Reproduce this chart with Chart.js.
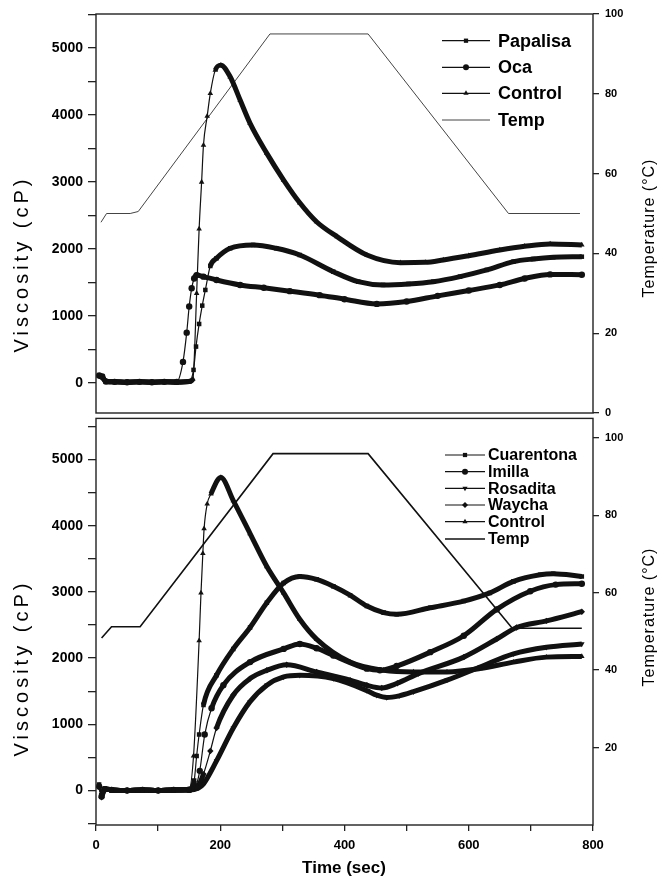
<!DOCTYPE html>
<html lang="en">
<head>
<meta charset="UTF-8">
<title>RVA viscosity profiles</title>
<script src="https://cdn.jsdelivr.net/npm/chart.js"></script>
<style>
  body { margin: 0; background: #fff; }
  #wrap { position: relative; width: 662px; height: 888px; }
  canvas { position: absolute; left: 0; }
  #top { top: 0; }
  #bottom { top: 405px; }
</style>
</head>
<body>
<div id="wrap">
  <canvas id="top" width="662" height="430"></canvas>
  <canvas id="bottom" width="662" height="483"></canvas>
</div>
<script>
// ---- axis ticks
const viscTicks = [-500, 0, 500, 1000, 1500, 2000, 2500, 3000, 3500, 4000, 4500, 5000, 5500];
const viscLabels = [0, 1000, 2000, 3000, 4000, 5000];
const tempTicksTop = [0, 20, 40, 60, 80, 100];
const tempTicksBottom = [20, 40, 60, 80, 100];
const timeTicks = [0, 100, 200, 300, 400, 500, 600, 700, 800];
const timeLabels = [0, 200, 400, 600, 800];

// ---- top panel (time in s, viscosity in cP, temperature in °C)
const papalisaTime = [5, 10, 16, 30, 50, 70, 90, 110, 130, 150, 157, 161, 166, 171, 176, 184, 194, 216, 253, 290, 328, 382, 422, 462, 503, 543, 586, 629, 672, 704, 736, 782];
const papalisaVisc = [110, 90, 20, 15, 10, 15, 10, 15, 10, 20, 194, 542, 880, 1154, 1388, 1746, 1861, 2010, 2060, 2010, 1910, 1661, 1512, 1463, 1478, 1512, 1587, 1687, 1811, 1851, 1876, 1885];

const ocaTime = [5, 10, 16, 30, 50, 70, 90, 110, 130, 140, 146, 150, 154, 158, 162, 173, 194, 232, 270, 312, 360, 400, 452, 500, 550, 600, 650, 690, 731, 782];
const ocaVisc = [110, 95, 20, 15, 10, 15, 10, 15, 15, 313, 750, 1140, 1413, 1560, 1610, 1587, 1537, 1463, 1420, 1370, 1310, 1250, 1180, 1215, 1300, 1380, 1463, 1560, 1620, 1615];

const controlTopTime = [5, 10, 16, 30, 50, 70, 90, 110, 130, 150, 156, 162, 166, 170, 173, 179, 184, 192, 201, 216, 232, 248, 275, 302, 328, 355, 388, 436, 490, 530, 559, 600, 650, 690, 731, 782];
const controlTopVisc = [100, 80, 20, 15, 10, 15, 10, 15, 10, 20, 60, 1338, 2300, 3000, 3552, 3985, 4324, 4672, 4746, 4572, 4224, 3876, 3428, 3030, 2690, 2407, 2184, 1910, 1796, 1800, 1836, 1900, 1985, 2040, 2075, 2060];

const tempTopTime = [8, 17, 55, 68, 280, 438, 664, 779];
const tempTopDeg = [47.8, 50, 50, 50.5, 95, 95, 50, 50];

// ---- bottom panel
const cuarentonaTime = [5, 9, 14, 25, 50, 75, 100, 125, 150, 158, 162, 166, 173, 194, 221, 248, 275, 302, 328, 355, 382, 409, 436, 463, 484, 538, 592, 634, 672, 715, 736, 782];
const cuarentonaVisc = [90, -70, 30, 10, 0, 10, 0, 10, 20, 150, 522, 846, 1294, 1741, 2139, 2463, 2836, 3134, 3234, 3190, 3085, 2950, 2786, 2687, 2661, 2761, 2861, 2985, 3159, 3258, 3273, 3234];

const imillaTime = [5, 9, 14, 25, 50, 75, 100, 125, 150, 160, 167, 175, 186, 205, 248, 302, 328, 355, 382, 436, 457, 484, 538, 592, 645, 699, 740, 782];
const imillaVisc = [60, -90, 20, 10, 0, 10, 0, 10, 10, 60, 298, 846, 1243, 1592, 1940, 2139, 2214, 2150, 2040, 1841, 1816, 1880, 2090, 2338, 2736, 3010, 3110, 3124];

const rosaditaTime = [5, 9, 14, 25, 50, 75, 100, 125, 150, 165, 173, 194, 221, 248, 275, 302, 328, 382, 436, 452, 468, 488, 511, 565, 618, 672, 725, 782];
const rosaditaVisc = [70, -60, 20, 10, 0, 10, 0, 10, 10, 40, 100, 448, 945, 1343, 1592, 1716, 1741, 1691, 1510, 1440, 1405, 1430, 1493, 1667, 1866, 2065, 2164, 2214];

const waychaTime = [5, 9, 14, 25, 50, 75, 100, 125, 150, 165, 173, 184, 194, 221, 248, 275, 307, 355, 409, 436, 460, 485, 519, 592, 645, 677, 725, 782];
const waychaVisc = [50, -100, 20, 10, 0, 10, 0, 10, 10, 80, 249, 597, 945, 1443, 1691, 1816, 1900, 1791, 1667, 1590, 1550, 1620, 1766, 2015, 2288, 2463, 2562, 2701];

const controlBotTime = [5, 9, 14, 25, 50, 75, 100, 125, 150, 157, 166, 169, 172, 174, 179, 185, 201, 221, 248, 275, 302, 328, 355, 409, 463, 511, 565, 618, 672, 725, 782];
const controlBotVisc = [80, -50, 20, 10, 0, 10, 0, 10, 20, 522, 2264, 2985, 3582, 3955, 4328, 4478, 4727, 4378, 3881, 3383, 2985, 2587, 2288, 1940, 1816, 1791, 1791, 1841, 1940, 2015, 2025];

const tempBotTime = [9, 25, 71, 285, 438, 670, 782];
const tempBotDeg = [48.3, 51.2, 51.2, 95.9, 95.9, 50.8, 50.8];

Chart.defaults.font.family = '"Liberation Sans", Arial, sans-serif';
Chart.defaults.color = '#000';

// dense marker runs look like a thick line, steep rises stay thin
const segWidth = ctx => {
  const dx = Math.abs(ctx.p1.x - ctx.p0.x);
  const dy = Math.abs(ctx.p1.y - ctx.p0.y);
  return dy > 2.5 * dx ? 1.2 : 5;
};

function viscSeries(label, times, values, style, rot) {
  return {
    label: label,
    data: times.map((t, i) => ({ x: t, y: values[i] })),
    yAxisID: 'y',
    borderColor: '#111',
    backgroundColor: '#111',
    borderWidth: 5,
    pointStyle: style,
    pointRotation: rot || 0,
    pointRadius: 3.2,
    pointBorderWidth: 0,
    cubicInterpolationMode: 'monotone',
    segment: { borderWidth: segWidth }
  };
}

function tempSeries(times, values, width, color) {
  return {
    label: 'Temp',
    data: times.map((t, i) => ({ x: t, y: values[i] })),
    yAxisID: 'y2',
    borderColor: color,
    backgroundColor: color,
    borderWidth: width,
    pointRadius: 0,
    tension: 0
  };
}

const inRange = (vals, min, max) => vals.filter(v => v >= min && v <= max).map(v => ({ value: v }));

function leftAxis(min, max) {
  return {
    position: 'left', min: min, max: max,
    afterFit: s => { s.width = 96; },
    afterBuildTicks: s => { s.ticks = inRange(viscTicks, min, max); },
    border: { display: false },
    grid: { drawOnChartArea: false, tickLength: 8, lineWidth: 1.3, tickColor: '#222' },
    ticks: {
      padding: 5, autoSkip: false,
      font: { size: 14, weight: 'bold' },
      callback: v => viscLabels.includes(v) ? v : ''
    }
  };
}

function rightAxis(min, max, tickVals) {
  return {
    position: 'right', min: min, max: max,
    afterFit: s => { s.width = 69; },
    afterBuildTicks: s => { s.ticks = inRange(tickVals, min, max); },
    border: { display: false },
    grid: { drawOnChartArea: false, tickLength: 6, lineWidth: 1.3, tickColor: '#222' },
    ticks: {
      padding: 6, autoSkip: false,
      font: { size: 11, weight: 'bold' },
      callback: v => v
    }
  };
}

const framePlugin = {
  id: 'frame',
  afterDatasetsDraw(chart) {
    const a = chart.chartArea, ctx = chart.ctx;
    ctx.save();
    ctx.strokeStyle = '#222';
    ctx.lineWidth = 1.4;
    ctx.strokeRect(a.left, a.top, a.right - a.left, a.bottom - a.top);
    ctx.restore();
  }
};

const legendPlugin = {
  id: 'panelLegend',
  afterDraw(chart, args, opts) {
    const ctx = chart.ctx;
    ctx.save();
    ctx.font = opts.font;
    ctx.textBaseline = 'middle';
    chart.data.datasets.forEach((ds, i) => {
      const y = opts.rows[i];
      ctx.strokeStyle = ds.borderColor;
      ctx.fillStyle = '#111';
      ctx.lineWidth = ds.pointRadius > 0 ? 1.2 : opts.tempWidth;
      ctx.beginPath();
      ctx.moveTo(opts.x0, y);
      ctx.lineTo(opts.x1, y);
      ctx.stroke();
      if (ds.pointRadius > 0) {
        Chart.helpers.drawPoint(ctx, {
          pointStyle: ds.pointStyle, rotation: ds.pointRotation,
          radius: 3, borderWidth: 0
        }, (opts.x0 + opts.x1) / 2, y);
      }
      ctx.fillStyle = '#000';
      ctx.fillText(ds.label, opts.textX, y + 1);
    });
    ctx.restore();
  }
};

const titlePlugin = {
  id: 'axisTitles',
  afterDraw(chart, args, opts) {
    const ctx = chart.ctx;
    opts.items.forEach(it => {
      ctx.save();
      ctx.translate(it.x, it.y);
      ctx.rotate(it.rot);
      ctx.font = it.font;
      ctx.letterSpacing = it.spacing + 'px';
      ctx.textAlign = 'center';
      ctx.textBaseline = 'middle';
      ctx.fillStyle = '#000';
      ctx.fillText(it.text, 0, 0);
      ctx.restore();
    });
  }
};

const baseOptions = {
  responsive: false,
  animation: false,
  events: []
};

new Chart(document.getElementById('top'), {
  type: 'line',
  data: {
    datasets: [
      viscSeries('Papalisa', papalisaTime, papalisaVisc, 'rect'),
      viscSeries('Oca', ocaTime, ocaVisc, 'circle'),
      viscSeries('Control', controlTopTime, controlTopVisc, 'triangle'),
      tempSeries(tempTopTime, tempTopDeg, 1, '#444')
    ]
  },
  options: Object.assign({}, baseOptions, {
    layout: { padding: { top: 14, bottom: 17, left: 0, right: 0 } },
    scales: {
      x: { type: 'linear', min: 0, max: 800, display: false },
      y: leftAxis(-450, 5510),
      y2: rightAxis(0, 100, tempTicksTop)
    },
    plugins: {
      legend: { display: false },
      tooltip: { enabled: false },
      panelLegend: { rows: [40.7, 67.3, 93.3, 120], x0: 442, x1: 490, textX: 498, font: 'bold 18px "Liberation Sans", Arial, sans-serif', tempWidth: 1 },
      axisTitles: { items: [
        { text: 'Viscosity (cP)', x: 22, y: 264, rot: -Math.PI / 2, font: '20px "Liberation Sans", Arial, sans-serif', spacing: 4 },
        { text: 'Temperature (°C)', x: 650, y: 228, rot: -Math.PI / 2, font: '16px "Liberation Sans", Arial, sans-serif', spacing: 1 }
      ] }
    }
  }),
  plugins: [framePlugin, legendPlugin, titlePlugin]
});

new Chart(document.getElementById('bottom'), {
  type: 'line',
  data: {
    datasets: [
      viscSeries('Cuarentona', cuarentonaTime, cuarentonaVisc, 'rect'),
      viscSeries('Imilla', imillaTime, imillaVisc, 'circle'),
      viscSeries('Rosadita', rosaditaTime, rosaditaVisc, 'triangle', 180),
      viscSeries('Waycha', waychaTime, waychaVisc, 'rectRot'),
      viscSeries('Control', controlBotTime, controlBotVisc, 'triangle'),
      tempSeries(tempBotTime, tempBotDeg, 1.6, '#111')
    ]
  },
  options: Object.assign({}, baseOptions, {
    layout: { padding: { top: 8, bottom: 0, left: 0, right: 0 } },
    scales: {
      x: {
        type: 'linear', min: 0, max: 800,
        afterFit: s => { s.height = 63; },
        afterBuildTicks: s => { s.ticks = timeTicks.map(v => ({ value: v })); },
        border: { display: false },
        grid: { drawOnChartArea: false, tickLength: 6, lineWidth: 1.3, tickColor: '#222' },
        ticks: {
          padding: 7, autoSkip: false, maxRotation: 0,
          font: { size: 13, weight: 'bold' },
          callback: v => timeLabels.includes(v) ? v : ''
        }
      },
      y: leftAxis(-520, 5620),
      y2: rightAxis(0, 105, tempTicksBottom)
    },
    plugins: {
      legend: { display: false },
      tooltip: { enabled: false },
      panelLegend: { rows: [50, 66.7, 83.3, 100, 116.7, 134], x0: 445, x1: 485, textX: 488, font: 'bold 16px "Liberation Sans", Arial, sans-serif', tempWidth: 1.6 },
      axisTitles: { items: [
        { text: 'Viscosity (cP)', x: 22, y: 263, rot: -Math.PI / 2, font: '20px "Liberation Sans", Arial, sans-serif', spacing: 4 },
        { text: 'Temperature (°C)', x: 650, y: 212, rot: -Math.PI / 2, font: '16px "Liberation Sans", Arial, sans-serif', spacing: 1 },
        { text: 'Time (sec)', x: 344, y: 463, rot: 0, font: 'bold 17px "Liberation Sans", Arial, sans-serif', spacing: 0 }
      ] }
    }
  }),
  plugins: [framePlugin, legendPlugin, titlePlugin]
});
</script>
</body>
</html>
